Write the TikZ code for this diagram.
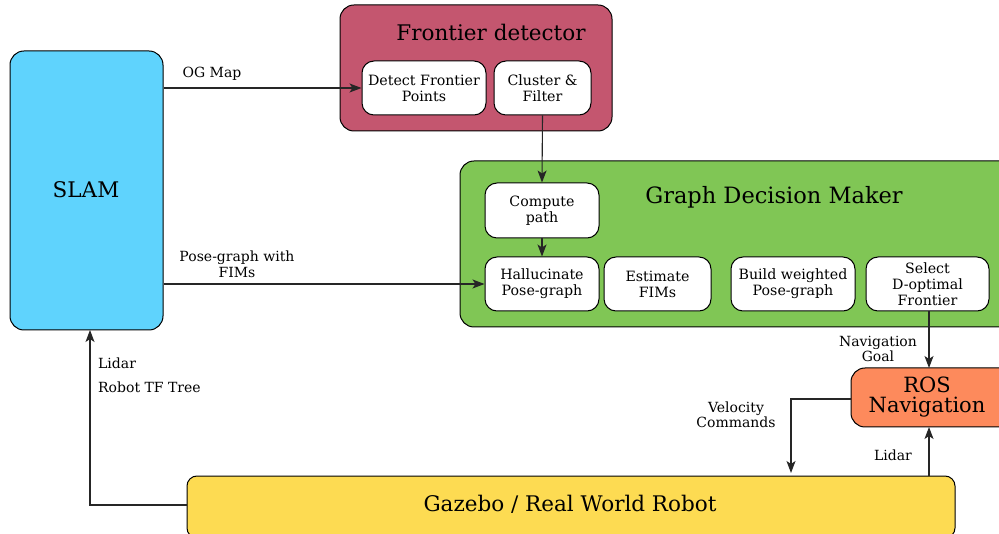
\documentclass[tikz,border=0pt]{standalone}
\usepackage{fontspec}
\setmainfont{DejaVu Serif}
\usetikzlibrary{arrows.meta}
\definecolor{slamc}{HTML}{5FD3FD}
\definecolor{frontc}{HTML}{C4566F}
\definecolor{gdmc}{HTML}{80C655}
\definecolor{rosc}{HTML}{FD8A5C}
\definecolor{gazc}{HTML}{FDDB52}
\tikzset{
  blk/.style={draw=black, line width=1pt, rounded corners=14pt, inner sep=0pt},
  sub/.style={draw=black, line width=1pt, fill=white, rounded corners=12pt, inner sep=0pt, align=center, font=\fontsize{14.2}{16}\selectfont},
  lbl/.style={inner sep=0pt, align=center, font=\fontsize{14}{14.5}\selectfont},
  ttl/.style={inner sep=0pt, font=\fontsize{21.5}{24}\selectfont},
  con/.style={draw=black!85, line width=1.1pt, -{Stealth[length=12pt,width=9pt,inset=3pt]}}
}
\begin{document}
\begin{tikzpicture}[x=1pt,y=-1pt]
\useasboundingbox (0,0) rectangle (999,534);
% big blocks
\node[blk, fill=slamc, minimum width=153pt, minimum height=279pt] (slam) at (86.5,190.5) {};
\node[ttl] (slamt) at (86,190) {SLAM};
\node[blk, fill=frontc, minimum width=272pt, minimum height=126pt] (fd) at (476,68) {};
\node[ttl] (fdt) at (491,32) {Frontier detector};
\node[blk, fill=gdmc, minimum width=560pt, minimum height=166pt] (gdm) at (740,244) {};
\node[ttl, font=\fontsize{22.5}{24}\selectfont] (gdmt) at (774,197) {Graph Decision Maker};
\node[blk, fill=rosc, minimum width=170pt, minimum height=59pt] (ros) at (936,397.5) {};
\node[ttl, align=center, font=\fontsize{21}{20}\selectfont] (rost) at (927,397) {ROS\\Navigation};
\node[blk, fill=gazc, rounded corners=10pt, minimum width=768pt, minimum height=62pt] (gaz) at (571,507) {};
\node[ttl] (gazt) at (570,504) {\fontsize{21.5}{24}\selectfont Gazebo / Real World Robot};
% sub blocks
\node[sub, minimum width=124pt, minimum height=54pt] (detect) at (424,88) {Detect Frontier\\Points};
\node[sub, minimum width=97pt, minimum height=54pt] (cluster) at (542.5,88) {Cluster \&\\Filter};
\node[sub, minimum width=114pt, minimum height=55pt] (compute) at (542,210.5) {Compute\\path};
\node[sub, minimum width=114pt, minimum height=54pt] (hall) at (542,284) {Hallucinate\\Pose-graph};
\node[sub, minimum width=107pt, minimum height=54pt] (est) at (657.5,284) {Estimate\\FIMs};
\node[sub, minimum width=124pt, minimum height=54pt] (build) at (793,284) {Build weighted\\Pose-graph};
\node[sub, minimum width=123pt, minimum height=54pt] (sel) at (927.5,284) {Select\\D-optimal\\Frontier};
% connectors
\draw[con] (slam.east |- detect.west) -- (detect.west);
\node[lbl] (ogl) at (212,74) {OG Map};
\draw[con] (slam.east |- hall.west) -- (hall.west);
\node[lbl, font=\fontsize{14}{16}\selectfont] (pgl) at (237,264) {Pose-graph with\\FIMs};
\draw[con] (cluster.south) -- (compute.north);
\draw[con] (compute.south) -- (hall.north);
\coordinate (selb) at (929,311);
\coordinate (rost0) at (929,368);
\draw[con] (selb) -- (rost0);
\node[lbl] (ngl) at (878,349) {Navigation\\Goal};
\coordinate (rosl) at (851,399);
\coordinate (velc) at (791,399);
\coordinate (velend) at (791,473);
\draw[con] (rosl) -- (velc) -- (velend);
\node[lbl, font=\fontsize{14}{13}\selectfont] (vcl) at (736,414.5) {Velocity\\Commands};
\coordinate (gazt0) at (929,476);
\coordinate (rosb) at (929,427);
\draw[con] (gazt0) -- (rosb);
\node[lbl] (lidr) at (893,455) {Lidar};
\coordinate (gazl) at (187,505);
\coordinate (corn) at (90,505);
\coordinate (slamb) at (90,330);
\draw[con] (gazl) -- (corn) -- (slamb);
\node[lbl, anchor=west] (lidl) at (98,363) {Lidar};
\node[lbl, anchor=west] (tfl) at (98,387) {Robot TF Tree};
\end{tikzpicture}
\end{document}
